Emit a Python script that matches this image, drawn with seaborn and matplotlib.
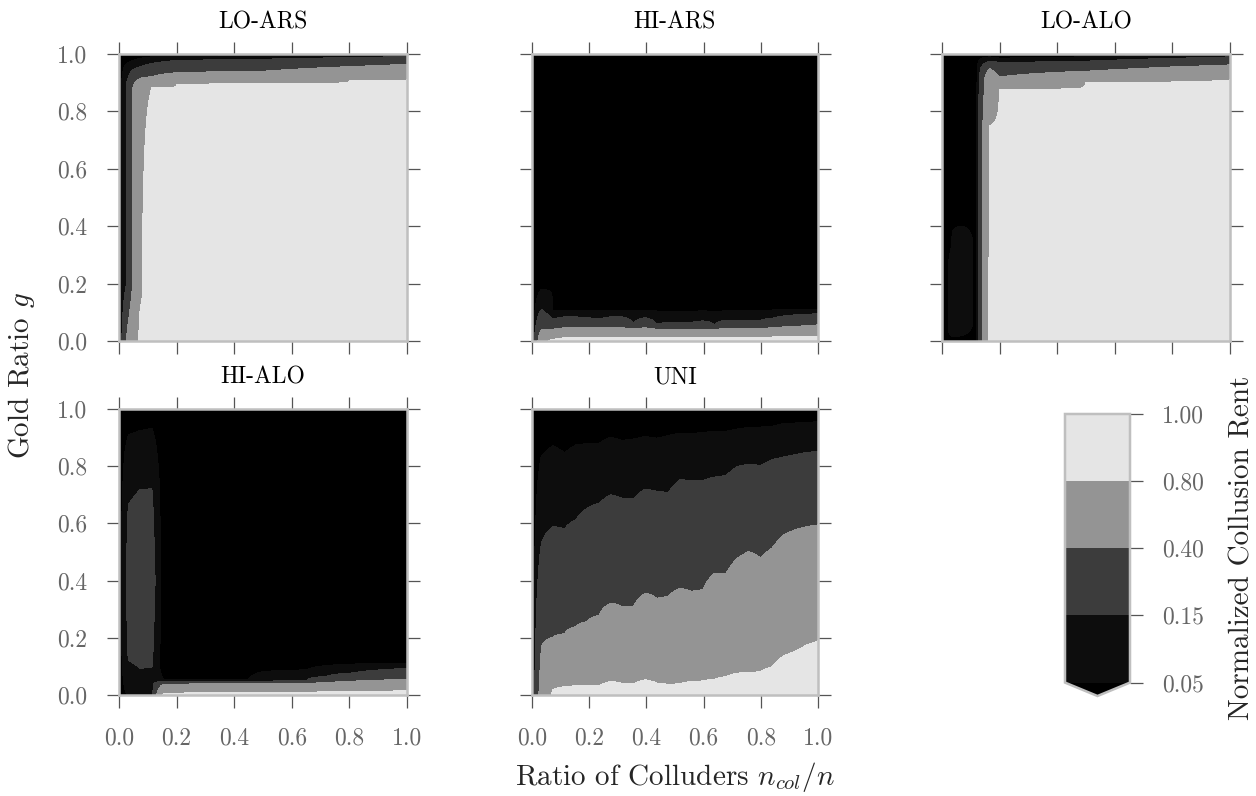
import numpy as np
import matplotlib
matplotlib.use("Agg")
import matplotlib.pyplot as plt
import seaborn as sns

nan = np.nan

# ---------------- data ----------------
levels = [0.05, 0.15, 0.40, 0.80, 1.00]
level_labels = ["0.05", "0.15", "0.40", "0.80", "1.00"]
titles = ["LO-ARS", "HI-ARS", "LO-ALO", "HI-ALO", "UNI"]
tick_vals = [0.0, 0.2, 0.4, 0.6, 0.8, 1.0]
tick_labels = ["0.0", "0.2", "0.4", "0.6", "0.8", "1.0"]

# ratio of colluders grid (columns) for HI-ARS and UNI
grid_x = [0.0, 0.033, 0.073, 0.114, 0.154, 0.194, 0.235, 0.275, 0.315, 0.355,
          0.396, 0.436, 0.476, 0.517, 0.557, 0.597, 0.638, 0.678, 0.718, 0.758,
          0.799, 0.839, 0.879, 0.919, 0.960, 1.0]

# UNI: value at g=0 and gold ratio where rent crosses each level
uni_v0 = [0.0, 0.55, 0.85, 0.95, 0.95, 0.95, 0.95, 0.95, 0.95, 0.95, 0.95, 0.95, 0.95,
          0.95, 0.95, 0.95, 0.95, 0.95, 0.95, 0.95, 0.95, 0.95, 0.95, 0.95, 0.95, 0.95]
uni_b080 = [nan, nan, 0.018, 0.029, 0.032, 0.032, 0.032, 0.047, 0.041, 0.039, 0.053, 0.041, 0.037,
            0.039, 0.047, 0.049, 0.055, 0.064, 0.076, 0.079, 0.081, 0.099, 0.137, 0.152, 0.175, 0.190]
uni_b040 = [nan, 0.169, 0.202, 0.214, 0.239, 0.257, 0.279, 0.321, 0.309, 0.309, 0.356, 0.338, 0.344,
            0.373, 0.362, 0.368, 0.426, 0.424, 0.478, 0.502, 0.481, 0.513, 0.560, 0.578, 0.589, 0.595]
uni_b015 = [nan, 0.531, 0.589, 0.581, 0.613, 0.653, 0.671, 0.700, 0.688, 0.685, 0.720, 0.712, 0.708,
            0.753, 0.750, 0.750, 0.762, 0.767, 0.799, 0.807, 0.803, 0.823, 0.832, 0.840, 0.848, 0.852]
uni_b005 = [nan, 0.837, 0.872, 0.848, 0.875, 0.879, 0.881, 0.902, 0.890, 0.895, 0.904, 0.898, 0.907,
            0.916, 0.914, 0.918, 0.922, 0.922, 0.930, 0.936, 0.937, 0.939, 0.949, 0.951, 0.953, 0.956]

# HI-ARS
hi_ars_v0 = [0.0, 0.65, 0.90, 0.90, 0.90, 0.90, 0.90, 0.90, 0.90, 0.90, 0.90, 0.90, 0.90,
             0.90, 0.90, 0.90, 0.90, 0.90, 0.90, 0.90, 0.90, 0.90, 0.90, 0.90, 0.90, 0.90]
hi_ars_b080 = [nan, nan, 0.006, 0.012, 0.012, 0.012, 0.012, 0.012, 0.012, 0.012, 0.012, 0.012, 0.012,
               0.012, 0.012, 0.012, 0.012, 0.012, 0.012, 0.012, 0.013, 0.014, 0.015, 0.016, 0.017, 0.017]
hi_ars_b040 = [nan, 0.041, 0.041, 0.046, 0.046, 0.046, 0.046, 0.046, 0.046, 0.043, 0.046, 0.041, 0.041,
               0.041, 0.041, 0.041, 0.041, 0.043, 0.043, 0.043, 0.043, 0.046, 0.049, 0.051, 0.053, 0.056]
hi_ars_b015 = [nan, 0.110, 0.076, 0.084, 0.084, 0.081, 0.076, 0.084, 0.084, 0.064, 0.081, 0.058, 0.064,
               0.064, 0.064, 0.070, 0.056, 0.072, 0.070, 0.070, 0.072, 0.079, 0.087, 0.091, 0.093, 0.095]
hi_ars_b005 = [nan, 0.180, 0.107, 0.107, 0.107, 0.107, 0.105, 0.107, 0.107, 0.103, 0.107, 0.101, 0.101,
               0.101, 0.103, 0.105, 0.097, 0.105, 0.105, 0.105, 0.105, 0.107, 0.109, 0.110, 0.111, 0.111]

# LO-ARS: per column profiles (gold ratio knots, rent values)
lo_ars_x = [0.0, 0.033, 0.073, 0.114, 0.2, 0.5, 0.8, 1.0]
lo_ars_g = [[0.0, 1.0],
            [0.0, 0.2, 0.9, 0.95, 0.98, 1.0],
            [0.0, 0.15, 0.88, 0.915, 0.955, 0.985, 1.0],
            [0.0, 0.884, 0.921, 0.967, 0.99, 1.0],
            [0.0, 0.895, 0.935, 0.978, 0.992, 1.0],
            [0.0, 0.898, 0.940, 0.982, 0.994, 1.0],
            [0.0, 0.907, 0.956, 0.988, 0.996, 1.0],
            [0.0, 0.912, 0.964, 0.991, 0.997, 1.0]]
lo_ars_v = [[0.0, 0.0],
            [0.52, 0.19, 0.185, 0.10, 0.03, 0.0],
            [0.85, 0.78, 0.78, 0.40, 0.15, 0.05, 0.0],
            [0.92, 0.80, 0.40, 0.15, 0.05, 0.0],
            [0.92, 0.80, 0.40, 0.15, 0.05, 0.0],
            [0.92, 0.80, 0.40, 0.15, 0.05, 0.0],
            [0.92, 0.80, 0.40, 0.15, 0.05, 0.0],
            [0.92, 0.80, 0.40, 0.15, 0.05, 0.0]]

# LO-ALO
lo_alo_x = [0.0, 0.033, 0.073, 0.12, 0.165, 0.2, 0.5, 0.8, 1.0]
lo_alo_g = [[0.0, 1.0],
            [0.0, 0.03, 0.28, 0.33, 1.0],
            [0.0, 0.02, 0.05, 0.36, 0.40, 1.0],
            [0.0, 1.0],
            [0.0, 0.5, 0.75, 0.92, 0.95, 0.975, 0.99, 1.0],
            [0.0, 0.877, 0.92, 0.97, 0.985, 1.0],
            [0.0, 0.900, 0.940, 0.975, 0.990, 1.0],
            [0.0, 0.905, 0.955, 0.985, 0.995, 1.0],
            [0.0, 0.912, 0.962, 0.990, 0.997, 1.0]]
lo_alo_v = [[0.0, 0.0],
            [0.03, 0.07, 0.07, 0.05, 0.02],
            [0.04, 0.05, 0.09, 0.09, 0.05, 0.02],
            [0.03, 0.03],
            [0.85, 0.82, 0.80, 0.60, 0.40, 0.15, 0.05, 0.0],
            [0.92, 0.80, 0.40, 0.15, 0.05, 0.0],
            [0.92, 0.80, 0.40, 0.15, 0.05, 0.0],
            [0.92, 0.80, 0.40, 0.15, 0.05, 0.0],
            [0.92, 0.80, 0.40, 0.15, 0.05, 0.0]]

# HI-ALO
hi_alo_x = [0.0, 0.033, 0.073, 0.114, 0.154, 0.3, 0.45, 0.5, 0.65, 0.72, 0.8, 1.0]
hi_alo_g = [[0.0, 1.0],
            [0.0, 0.05, 0.14, 0.4, 0.64, 0.85, 0.95, 1.0],
            [0.0, 0.093, 0.4, 0.718, 0.925, 1.0],
            [0.0, 0.11, 0.4, 0.70, 0.933, 1.0],
            [0.0, 0.006, 0.038, 0.047, 0.055, 0.1, 1.0],
            [0.0, 0.008, 0.039, 0.047, 0.055, 0.1, 1.0],
            [0.0, 0.008, 0.039, 0.047, 0.055, 0.1, 1.0],
            [0.0, 0.009, 0.040, 0.048, 0.082, 0.12, 1.0],
            [0.0, 0.010, 0.041, 0.050, 0.088, 0.13, 1.0],
            [0.0, 0.011, 0.044, 0.065, 0.103, 0.14, 1.0],
            [0.0, 0.012, 0.048, 0.076, 0.107, 0.15, 1.0],
            [0.0, 0.015, 0.055, 0.093, 0.111, 0.16, 1.0]]
hi_alo_v = [[0.0, 0.0],
            [0.06, 0.11, 0.16, 0.20, 0.16, 0.08, 0.03, 0.0],
            [0.09, 0.15, 0.30, 0.15, 0.05, 0.0],
            [0.08, 0.16, 0.21, 0.16, 0.05, 0.0],
            [0.85, 0.80, 0.40, 0.15, 0.05, 0.0, 0.0],
            [0.90, 0.80, 0.40, 0.15, 0.05, 0.0, 0.0],
            [0.90, 0.80, 0.40, 0.15, 0.05, 0.0, 0.0],
            [0.90, 0.80, 0.40, 0.15, 0.05, 0.0, 0.0],
            [0.90, 0.80, 0.40, 0.15, 0.05, 0.0, 0.0],
            [0.90, 0.80, 0.40, 0.15, 0.05, 0.0, 0.0],
            [0.90, 0.80, 0.40, 0.15, 0.05, 0.0, 0.0],
            [0.90, 0.80, 0.40, 0.15, 0.05, 0.0, 0.0]]


# ---------------- helpers ----------------
def profiles_from_bounds(v0, b080, b040, b015, b005):
    G, V = [], []
    for i in range(len(v0)):
        g, v = [0.0], [v0[i]]
        for b, lv in ((b080[i], 0.80), (b040[i], 0.40), (b015[i], 0.15), (b005[i], 0.05)):
            if not np.isnan(b):
                g.append(b)
                v.append(lv)
        g.append(1.0)
        v.append(0.0)
        G.append(g)
        V.append(v)
    return G, V


gg = np.linspace(0.0, 1.0, 801)


def field(G, V):
    return np.column_stack([np.interp(gg, g, v) for g, v in zip(G, V)])


uni_G, uni_V = profiles_from_bounds(uni_v0, uni_b080, uni_b040, uni_b015, uni_b005)
hi_ars_G, hi_ars_V = profiles_from_bounds(hi_ars_v0, hi_ars_b080, hi_ars_b040, hi_ars_b015, hi_ars_b005)

panels = [
    (lo_ars_x, lo_ars_g, lo_ars_v),
    (grid_x, hi_ars_G, hi_ars_V),
    (lo_alo_x, lo_alo_g, lo_alo_v),
    (hi_alo_x, hi_alo_g, hi_alo_v),
    (grid_x, uni_G, uni_V),
]

# ---------------- style ----------------
sns.set_theme(style="ticks")
plt.rcParams["font.family"] = ["cmr10", "DejaVu Serif"]
plt.rcParams["mathtext.fontset"] = "cm"
plt.rcParams["axes.formatter.use_mathtext"] = True
plt.rcParams["axes.unicode_minus"] = False

SPINE = "#bfbfbf"
TICK = "#555555"
TLAB = "#666666"

W, H = 1256, 796
fig = plt.figure(figsize=(W / 100, H / 100), dpi=100)


def rect(l, t, r, b):
    return [l / W, 1 - b / H, (r - l) / W, (b - t) / H]


rects = [rect(119, 54, 407, 341), rect(532, 54, 818, 341), rect(942, 54, 1230, 341),
         rect(119, 409, 407, 695), rect(532, 409, 818, 695)]
show_x = [False, False, False, True, True]
show_y = [True, False, False, True, False]

cs = None
axes = []
for i, (x, G, V) in enumerate(panels):
    ax = fig.add_axes(rects[i])
    Z = field(G, V)
    cs = ax.contourf(x, gg, Z, levels=levels, cmap="gray", extend="min")
    ax.set_xlim(0, 1)
    ax.set_ylim(0, 1)
    ax.set_xticks(tick_vals)
    ax.set_yticks(tick_vals)
    ax.set_xticklabels(tick_labels if show_x[i] else [])
    ax.set_yticklabels(tick_labels if show_y[i] else [])
    ax.tick_params(direction="out", length=9, width=0.9, color=TICK, labelcolor=TLAB,
                   labelsize=17, pad=14, top=True, right=True)
    for s in ax.spines.values():
        s.set_color(SPINE)
        s.set_linewidth(1.8)
    ax.set_title(titles[i], fontsize=17, pad=18, color="black")
    axes.append(ax)

axes[4].set_xlabel(r"Ratio of Colluders $n_{col}/n$", fontsize=21, labelpad=8)
fig.text(22 / W, 1 - 375 / H, r"Gold Ratio $g$", rotation=90, ha="center", va="center",
         fontsize=21)

cax = fig.add_axes(rect(1065, 414, 1130, 696))
cbar = fig.colorbar(cs, cax=cax, ticks=levels)
cbar.ax.set_yticklabels(level_labels)
cbar.outline.set_edgecolor(SPINE)
cbar.outline.set_linewidth(1.8)
cbar.ax.tick_params(direction="out", length=9, width=0.9, color=TICK, labelcolor=TLAB,
                    labelsize=17, pad=14)
cbar.set_label("Normalized Collusion Rent", fontsize=21, labelpad=18)

fig.savefig("out.png", dpi=100)
